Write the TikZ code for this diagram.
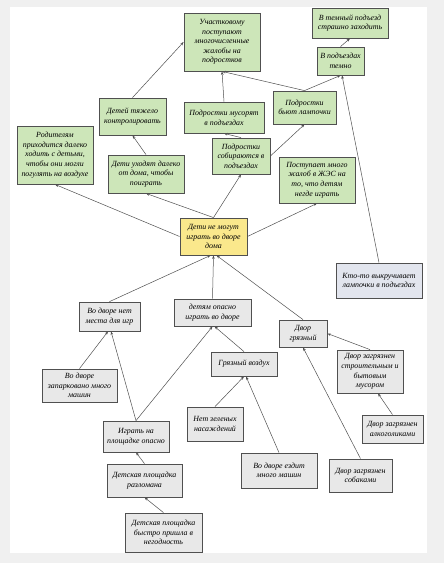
\documentclass[tikz,border=0pt]{standalone}
\usepackage{fontspec}
\setmainfont{Liberation Serif}
\usetikzlibrary{arrows.meta,shadows}

\definecolor{bgrey}{HTML}{F0F0F0}
\definecolor{boxgreen}{HTML}{CDE6B9}
\definecolor{boxyellow}{HTML}{FAE88C}
\definecolor{boxgrey}{HTML}{E8E8E8}
\definecolor{boxblue}{HTML}{E2E5EE}
\definecolor{edgegrey}{HTML}{505050}

\tikzset{
    box/.style={draw=edgegrey, line width=0.8pt, align=center, inner sep=1pt,
        font=\fontsize{7.9}{9.6}\selectfont\itshape,
        drop shadow={shadow xshift=0.9pt, shadow yshift=-0.9pt, fill=gray!70, opacity=0.8}},
    gbox/.style={box, fill=boxgreen},
    ybox/.style={box, fill=boxyellow},
    wbox/.style={box, fill=boxgrey},
    bbox/.style={box, fill=boxblue},
    link/.style={-{Stealth[length=3.5pt,width=2.6pt]}, draw=edgegrey, line width=0.5pt}
}

\begin{document}
\begin{tikzpicture}[x=1pt, y=-1pt]
        \useasboundingbox (0,0) rectangle (444,563);
        \fill[bgrey] (0,0) rectangle (444,563);
        \fill[white] (10,7) rectangle (427,553);

        % effects (top)
        \node[gbox, minimum width=76pt, minimum height=58pt] (uch) at (222,42) {Участковому\\поступают\\многочисленные\\жалобы на\\подростков};
        \node[gbox, minimum width=76pt, minimum height=30pt] (temn) at (350,23) {В темный подъезд\\страшно заходить};
        \node[gbox, minimum width=47pt, minimum height=28pt] (podt) at (340.5,61) {В подъездах\\темно};
        \node[gbox, minimum width=63pt, minimum height=33pt] (lamp) at (304.5,107.5) {Подростки\\бьют лампочки};
        \node[gbox, minimum width=67pt, minimum height=37pt] (kontr) at (132.5,116.5) {Детей тяжело\\контролировать};
        \node[gbox, minimum width=80pt, minimum height=31pt] (musor) at (224,117.5) {Подростки мусорят\\в подъездах};
        \node[gbox, minimum width=76pt, minimum height=58pt] (rod) at (55,155) {Родителям\\приходится далеко\\ходить с детьми,\\чтобы они могли\\погулять на воздухе};
        \node[gbox, minimum width=76pt, minimum height=38pt] (uhod) at (146,174) {Дети уходят далеко\\от дома, чтобы\\поиграть};
        \node[gbox, minimum width=58pt, minimum height=36pt] (sobir) at (241,156) {Подростки\\собираются в\\подъездах};
        \node[gbox, minimum width=76pt, minimum height=46pt] (zhal) at (317,180) {Поступает много\\жалоб в ЖЭС на\\то, что детям\\негде играть};

        % central problem
        \node[ybox, minimum width=67pt, minimum height=37pt] (main) at (213.5,236.5) {Дети не могут\\играть во дворе\\дома};

        % causes (bottom)
        \node[bbox, minimum width=86pt, minimum height=35pt] (kto) at (379,280.5) {Кто-то выкручивает\\лампочки в подъездах};
        \node[wbox, minimum width=61pt, minimum height=29pt] (mesto) at (109.5,316.5) {Во дворе нет\\места для игр};
        \node[wbox, minimum width=77pt, minimum height=27pt] (opasno) at (212.5,312.5) {детям опасно\\играть во дворе};
        \node[wbox, minimum width=48pt, minimum height=27pt] (gryaz) at (303,333.5) {Двор\\грязный};
        \node[wbox, minimum width=66pt, minimum height=24pt] (vozd) at (244,364) {Грязный воздух};
        \node[wbox, minimum width=66pt, minimum height=43pt] (stroy) at (370,371.5) {Двор загрязнен\\строительным и\\бытовым\\мусором};
        \node[wbox, minimum width=75pt, minimum height=33pt] (park) at (79.5,385.5) {Во дворе\\запарковано много\\машин};
        \node[wbox, minimum width=66pt, minimum height=31pt] (igrat) at (136,436.5) {Играть на\\площадке опасно};
        \node[wbox, minimum width=56pt, minimum height=34pt] (zelen) at (215,424) {Нет зеленых\\насаждений};
        \node[wbox, minimum width=61pt, minimum height=28pt] (alko) at (392.5,429) {Двор загрязнен\\алкоголиками};
        \node[wbox, minimum width=76pt, minimum height=35pt] (mashin) at (279,470.5) {Во дворе ездит\\много машин};
        \node[wbox, minimum width=63pt, minimum height=33pt] (sobak) at (360.5,475.5) {Двор загрязнен\\собаками};
        \node[wbox, minimum width=75pt, minimum height=33pt] (razl) at (144.5,480.5) {Детская площадка\\разломана};
        \node[wbox, minimum width=77pt, minimum height=39pt] (negod) at (163.5,532.5) {Детская площадка\\быстро пришла в\\негодность};

        % links upwards
        \draw[link] (main.west) -- (rod.south);
        \draw[link] (main.north) -- (uhod.south);
        \draw[link] (main.north) -- (sobir.south);
        \draw[link] (main.east) -- (zhal.south);
        \draw[link] (uhod.north) -- (kontr.south);
        \draw[link] (kontr.north) -- (uch.west);
        \draw[link] (musor.north) -- (uch.south);
        \draw[link] (sobir.north) -- (musor.south);
        \draw[link] (sobir.east) -- (lamp.south);
        \draw[link] (lamp.north) -- (uch.south);
        \draw[link] (lamp.north) -- (podt.south);
        \draw[link] (podt.north) -- (temn.south);
        \draw[link] (kto.north) -- ([xshift=1.5pt]podt.south);

        % links into the problem
        \draw[link] (mesto.north) -- ([xshift=-3pt]main.south);
        \draw[link] (opasno.north) -- (main.south);
        \draw[link] (gryaz.north) -- ([xshift=3pt]main.south);
        \draw[link] (park.north) -- ([xshift=-1.5pt]mesto.south);
        \draw[link] (igrat.north) -- ([xshift=1.5pt]mesto.south);
        \draw[link] (igrat.north) -- (opasno.south);
        \draw[link] (vozd.north) -- ([xshift=2pt]opasno.south);
        \draw[link] (zelen.north) -- (vozd.south);
        \draw[link] (mashin.north) -- ([xshift=2pt]vozd.south);
        \draw[link] (stroy.north) -- (gryaz.east);
        \draw[link] (sobak.north) -- (gryaz.south);
        \draw[link] (alko.north) -- ([xshift=8pt]stroy.south);
        \draw[link] (razl.north) -- (igrat.south);
        \draw[link] (negod.north) -- (razl.south);
\end{tikzpicture}
\end{document}
